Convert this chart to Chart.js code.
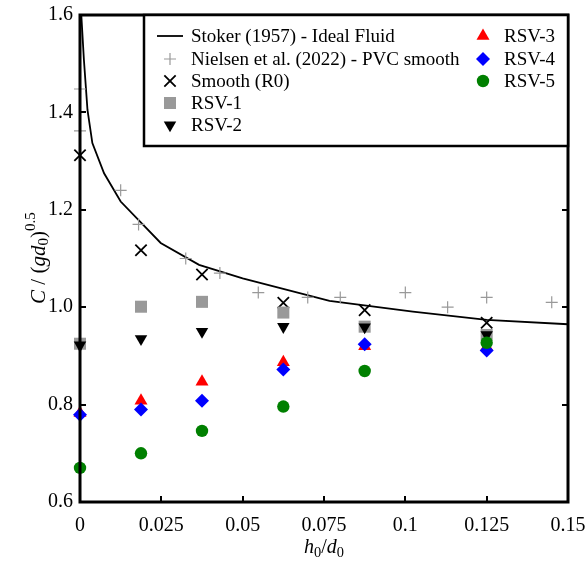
<!DOCTYPE html>
<html>
<head>
<meta charset="utf-8">
<script src="https://cdn.jsdelivr.net/npm/chart.js@4.4.0/dist/chart.umd.min.js"></script>
<style>
  html, body { margin: 0; padding: 0; background: #fff; }
  #wrap { width: 588px; height: 564px; }
</style>
</head>
<body>
<div id="wrap"><canvas id="celerityChart"></canvas></div>
<script>
// Stoker (1957) ideal fluid curve
var stokerX = [0.0004, 0.0012, 0.0023, 0.0038, 0.0074, 0.0125, 0.0248, 0.0366, 0.05, 0.0767, 0.1023, 0.125, 0.15];
var stokerY = [1.60, 1.508, 1.405, 1.337, 1.275, 1.217, 1.132, 1.087, 1.059, 1.013, 0.991, 0.974, 0.965];

// Nielsen et al. (2022) - PVC smooth
var nielsenX = [0, 0, 0.0125, 0.018, 0.0325, 0.043, 0.0548, 0.070, 0.080, 0.100, 0.113, 0.125, 0.145];
var nielsenY = [1.448, 1.362, 1.24, 1.17, 1.10, 1.07, 1.03, 1.02, 1.02, 1.03, 1.00, 1.02, 1.01];

// experiments
var testX  = [0, 0.01875, 0.0375, 0.0625, 0.0875, 0.125];
var smoothY = [1.312, 1.117, 1.067, 1.009, 0.994, 0.968];
var rsv1Y  = [0.925, 1.001, 1.011, 0.989, 0.960, 0.943];
var rsv2Y  = [0.922, 0.935, 0.950, 0.960, 0.959, 0.943];
var rsv3Y  = [0.783, 0.808, 0.847, 0.887, 0.920, 0.919];
var rsv4Y  = [0.779, 0.790, 0.808, 0.872, 0.924, 0.911];
var rsv5Y  = [0.670, 0.700, 0.746, 0.796, 0.869, 0.927];

var xTickLabels = ['0', '0.025', '0.05', '0.075', '0.1', '0.125', '0.15'];
var yTickLabels = ['0.6', '0.8', '1.0', '1.2', '1.4', '1.6'];

var seriesNames = ['Stoker (1957) - Ideal Fluid', 'Nielsen et al. (2022) - PVC smooth', 'Smooth (R0)',
                   'RSV-1', 'RSV-2', 'RSV-3', 'RSV-4', 'RSV-5'];

var serif = '"Liberation Serif", "DejaVu Serif", serif';

function toPoints(xs, ys) {
  return xs.map(function (x, i) { return { x: x, y: ys[i] }; });
}

function markerSet(idx, xs, ys, style) {
  var ds = {
    label: seriesNames[idx],
    data: toPoints(xs, ys),
    showLine: false,
    clip: false,
    order: 20 - idx,
    pointStyle: style.pointStyle,
    pointRadius: style.radius,
    pointRotation: style.rotation || 0,
    pointBackgroundColor: style.color,
    pointBorderColor: style.color,
    pointBorderWidth: style.borderWidth || 0,
    pointHoverRadius: style.radius
  };
  return ds;
}

var datasets = [
  {
    label: seriesNames[0],
    data: toPoints(stokerX, stokerY),
    showLine: true,
    borderColor: '#000',
    borderWidth: 1.8,
    pointRadius: 0,
    pointHoverRadius: 0,
    tension: 0,
    clip: 0,
    order: 20
  },
  markerSet(1, nielsenX, nielsenY, { pointStyle: 'cross', radius: 6, color: '#999999', borderWidth: 1.2 }),
  markerSet(2, testX, smoothY, { pointStyle: 'crossRot', radius: 8, color: '#000000', borderWidth: 1.8 }),
  markerSet(3, testX, rsv1Y, { pointStyle: 'rect', radius: 8.5, color: '#999999' }),
  markerSet(4, testX, rsv2Y, { pointStyle: 'triangle', radius: 7.2, rotation: 180, color: '#000000' }),
  markerSet(5, testX, rsv3Y, { pointStyle: 'triangle', radius: 7.5, color: '#ff0000' }),
  markerSet(6, testX, rsv4Y, { pointStyle: 'rectRot', radius: 7, color: '#0000ff' }),
  markerSet(7, testX, rsv5Y, { pointStyle: 'circle', radius: 6.2, color: '#008000' })
];

function drawMarker(ctx, ds, x, y) {
  ctx.save();
  ctx.fillStyle = ds.pointBackgroundColor;
  ctx.strokeStyle = ds.pointBorderColor;
  ctx.lineWidth = ds.pointBorderWidth;
  Chart.helpers.drawPoint(ctx, {
    pointStyle: ds.pointStyle,
    rotation: ds.pointRotation,
    radius: ds.pointRadius,
    borderWidth: ds.pointBorderWidth
  }, x, y);
  ctx.restore();
}

// draw text pieces: [text, italic, shift] where shift = 'sub' | 'sup' | null
function drawRich(ctx, pieces, cx, cy, size) {
  var widths = [];
  var total = 0;
  pieces.forEach(function (p) {
    var s = p[2] ? size * 0.72 : size;
    ctx.font = (p[1] ? 'italic ' : '') + s + 'px ' + serif;
    var w = ctx.measureText(p[0]).width;
    widths.push(w);
    total += w;
  });
  var x = cx - total / 2;
  pieces.forEach(function (p, i) {
    var s = p[2] ? size * 0.72 : size;
    ctx.font = (p[1] ? 'italic ' : '') + s + 'px ' + serif;
    var dy = p[2] === 'sub' ? size * 0.25 : (p[2] === 'sup' ? -size * 0.4 : 0);
    ctx.fillText(p[0], x, cy + dy);
    x += widths[i];
  });
}

var framePlugin = {
  id: 'frame',
  afterDatasetsDraw: function (chart) {
    var ctx = chart.ctx;
    var a = chart.chartArea;
    var xs = chart.scales.x;
    var ys = chart.scales.y;
    ctx.save();
    ctx.strokeStyle = '#000';

    // inward ticks
    ctx.lineWidth = 2;
    ctx.beginPath();
    xs.ticks.forEach(function (t) {
      var px = Math.round(xs.getPixelForValue(t.value));
      ctx.moveTo(px, a.bottom);
      ctx.lineTo(px, a.bottom - 6);
      ctx.moveTo(px, a.top);
      ctx.lineTo(px, a.top + 6);
    });
    ys.ticks.forEach(function (t) {
      var py = Math.round(ys.getPixelForValue(t.value));
      ctx.moveTo(a.left, py);
      ctx.lineTo(a.left + 6, py);
      ctx.moveTo(a.right, py);
      ctx.lineTo(a.right - 6, py);
    });
    ctx.stroke();

    ctx.lineWidth = 3;
    ctx.strokeRect(a.left, a.top, a.right - a.left, a.bottom - a.top);

    // legend box
    var bx = 144, by = a.top, bw = a.right - bx, bh = 131;
    ctx.fillStyle = '#fff';
    ctx.fillRect(bx, by, bw, bh);
    ctx.lineWidth = 2.5;
    ctx.strokeRect(bx, by, bw, bh);

    var rowY = [36, 59, 81, 103, 125];
    ctx.textBaseline = 'middle';
    ctx.textAlign = 'left';
    chart.data.datasets.forEach(function (ds, i) {
      var col = i < 5 ? 0 : 1;
      var row = i < 5 ? i : i - 5;
      var mx = col === 0 ? 170 : 483;
      var tx = col === 0 ? 191 : 504;
      var y = rowY[row];
      if (i === 0) {
        ctx.strokeStyle = '#000';
        ctx.lineWidth = 1.8;
        ctx.beginPath();
        ctx.moveTo(157, y);
        ctx.lineTo(183, y);
        ctx.stroke();
      } else {
        drawMarker(ctx, ds, mx, y);
      }
      ctx.fillStyle = '#000';
      ctx.font = '19px ' + serif;
      ctx.fillText(ds.label, tx, y + 1);
    });

    // axis titles
    ctx.fillStyle = '#000';
    ctx.textBaseline = 'middle';
    ctx.textAlign = 'left';
    drawRich(ctx, [['h', true, null], ['0', false, 'sub'], ['/', false, null], ['d', true, null], ['0', false, 'sub']],
      (a.left + a.right) / 2, 548, 20);

    ctx.translate(39, 258);
    ctx.rotate(-Math.PI / 2);
    drawRich(ctx, [['C', true, null], [' / (', false, null], ['gd', true, null], ['0', false, 'sub'], [')', false, null], ['0.5', false, 'sup']],
      0, 0, 21);
    ctx.restore();
  }
};

new Chart(document.getElementById('celerityChart'), {
  type: 'scatter',
  data: { datasets: datasets },
  options: {
    responsive: true,
    maintainAspectRatio: false,
    animation: false,
    layout: { padding: { left: 0, right: 20, top: 15, bottom: 0 } },
    plugins: {
      legend: { display: false },
      tooltip: { enabled: false }
    },
    scales: {
      x: {
        type: 'linear',
        min: 0,
        max: 0.15,
        grid: { display: false, drawTicks: false },
        border: { display: false },
        ticks: {
          stepSize: 0.025,
          padding: 12,
          color: '#000',
          font: { family: serif, size: 20 },
          maxRotation: 0,
          callback: function (v, i) { return xTickLabels[i]; }
        },
        afterFit: function (s) { s.height = 62; s.paddingLeft = 0; s.paddingRight = 0; }
      },
      y: {
        type: 'linear',
        min: 0.6,
        max: 1.6,
        grid: { display: false, drawTicks: false },
        border: { display: false },
        ticks: {
          stepSize: 0.2,
          padding: 7,
          color: '#000',
          font: { family: serif, size: 20 },
          callback: function (v, i) { return yTickLabels[i]; }
        },
        afterFit: function (s) { s.width = 80; s.paddingTop = 0; s.paddingBottom = 0; }
      }
    }
  },
  plugins: [framePlugin]
});
</script>
</body>
</html>
